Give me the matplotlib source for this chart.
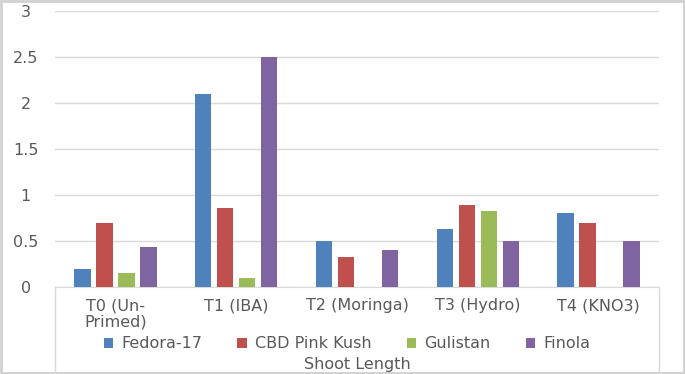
import matplotlib.pyplot as plt
import numpy as np
from matplotlib.lines import Line2D
from matplotlib.patches import Rectangle

# data
categories = ['T0 (Un-\nPrimed)', 'T1 (IBA)', 'T2 (Moringa)', 'T3 (Hydro)', 'T4 (KNO3)']
fedora = [0.20, 2.10, 0.50, 0.63, 0.80]
cbd = [0.70, 0.86, 0.33, 0.89, 0.70]
gulistan = [0.15, 0.10, 0.00, 0.83, 0.00]
finola = [0.43, 2.50, 0.40, 0.50, 0.50]
series_names = ['Fedora-17', 'CBD Pink Kush', 'Gulistan', 'Finola']
colors = ['#4f81bd', '#c0504d', '#9bbb59', '#8064a2']

txt = '#595959'
grid = '#d9d9d9'
fs = 11.5

fig = plt.figure(figsize=(6.85, 3.74), dpi=100)
ax = fig.add_axes([55/685, 87/374, 604/685, 276/374])

x = np.arange(len(categories))
step = 0.182
width = 0.135
for i, (vals, name, c) in enumerate(zip([fedora, cbd, gulistan, finola], series_names, colors)):
    ax.bar(x + (i - 1.5) * step, vals, width, color=c, label=name, zorder=3)

ax.set_xlim(-0.5, len(categories) - 0.5)
ax.set_ylim(0, 3)
ax.set_yticks([0, 0.5, 1, 1.5, 2, 2.5, 3])
ax.set_yticklabels(['0', '0.5', '1', '1.5', '2', '2.5', '3'], ha='center')
ax.set_xticks(x)
ax.set_xticklabels(categories, va='top', linespacing=1.1)
ax.tick_params(axis='both', length=0, labelsize=fs, colors=txt)
ax.tick_params(axis='x', pad=8)
ax.tick_params(axis='y', pad=21)
ax.grid(axis='y', color=grid, linewidth=1, zorder=0)
for s in ['top', 'right', 'left']:
    ax.spines[s].set_visible(False)
ax.spines['bottom'].set_color(grid)

# box under the category axis
fig.add_artist(Line2D([55/685, 55/685], [0, 87/374], color=grid, lw=1))
fig.add_artist(Line2D([659/685, 659/685], [0, 87/374], color=grid, lw=1))
# outer border
fig.add_artist(Rectangle((0.002, 0.003), 0.996, 0.994, transform=fig.transFigure,
                         fill=False, edgecolor='#d0d0d0', lw=2))

leg = fig.legend(loc='center', bbox_to_anchor=(347/685, 1 - 344/374), ncol=4,
                 frameon=False, fontsize=fs, handlelength=0.6, handleheight=0.6,
                 handletextpad=0.5, columnspacing=2.2, labelcolor=txt,
                 borderpad=0.2)
fig.text(357/685, 1 - 364/374, 'Shoot Length', ha='center', va='center',
         fontsize=fs, color=txt)

fig.savefig('out.png', dpi=100)
